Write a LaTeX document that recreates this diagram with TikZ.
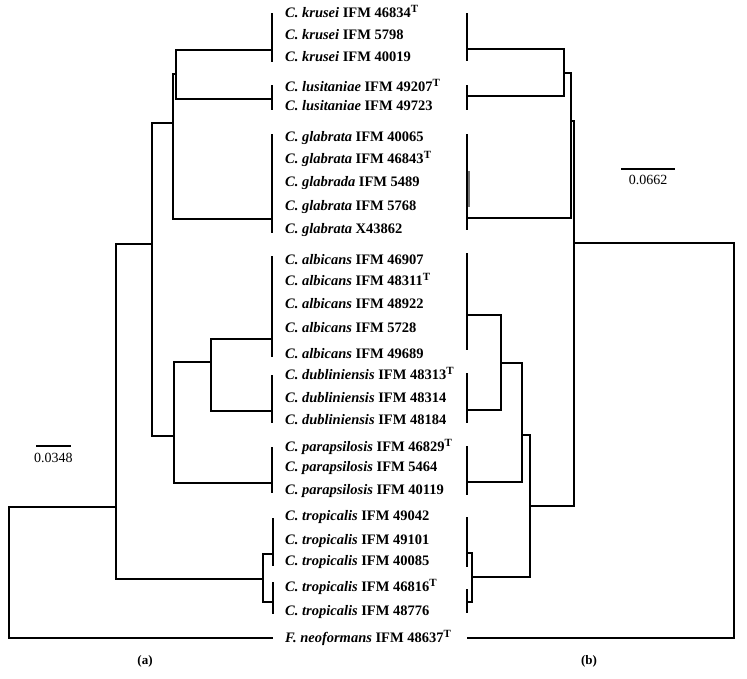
\documentclass[tikz,border=0pt]{standalone}
\usepackage{fontspec}
\setmainfont{Liberation Serif}
\usetikzlibrary{calc, positioning}
\newcommand{\typestrain}{\raisebox{5pt}{\fontsize{11}{11}\selectfont T}}

\begin{document}
\begin{tikzpicture}[x=1pt, y=-1pt,
  branch/.style={draw=black, line width=1.2pt},
  leafbar/.style={draw=black, line width=1.2pt},
  thickbar/.style={draw=black, line width=2.4pt},
  taxon/.style={anchor=base west, inner sep=0pt,
                font=\bfseries\fontsize{14.5}{16}\selectfont},
  scalelabel/.style={font=\fontsize{14}{15}\selectfont, inner sep=0pt},
  panel/.style={font=\bfseries\fontsize{13}{14}\selectfont, inner sep=0pt},
]
\useasboundingbox (0,0) rectangle (747,678);

% taxa
\node[taxon] (t1)  at (285,17)  {\textit{C. krusei} IFM 46834\typestrain};
\node[taxon] (t2)  at (285,39)  {\textit{C. krusei} IFM 5798};
\node[taxon] (t3)  at (285,61)  {\textit{C. krusei} IFM 40019};
\node[taxon] (t4)  at (285,91)  {\textit{C. lusitaniae} IFM 49207\typestrain};
\node[taxon] (t5)  at (285,110) {\textit{C. lusitaniae} IFM 49723};
\node[taxon] (t6)  at (285,141) {\textit{C. glabrata} IFM 40065};
\node[taxon] (t7)  at (285,163) {\textit{C. glabrata} IFM 46843\typestrain};
\node[taxon] (t8)  at (285,186) {\textit{C. glabrada} IFM 5489};
\node[taxon] (t9)  at (285,210) {\textit{C. glabrata} IFM 5768};
\node[taxon] (t10) at (285,233) {\textit{C. glabrata} X43862};
\node[taxon] (t11) at (285,264) {\textit{C. albicans} IFM 46907};
\node[taxon] (t12) at (285,285) {\textit{C. albicans} IFM 48311\typestrain};
\node[taxon] (t13) at (285,308) {\textit{C. albicans} IFM 48922};
\node[taxon] (t14) at (285,332) {\textit{C. albicans} IFM 5728};
\node[taxon] (t15) at (285,358) {\textit{C. albicans} IFM 49689};
\node[taxon] (t16) at (285,379) {\textit{C. dubliniensis} IFM 48313\typestrain};
\node[taxon] (t17) at (285,402) {\textit{C. dubliniensis} IFM 48314};
\node[taxon] (t18) at (285,424) {\textit{C. dubliniensis} IFM 48184};
\node[taxon] (t19) at (285,451) {\textit{C. parapsilosis} IFM 46829\typestrain};
\node[taxon] (t20) at (285,471) {\textit{C. parapsilosis} IFM 5464};
\node[taxon] (t21) at (285,494) {\textit{C. parapsilosis} IFM 40119};
\node[taxon] (t22) at (285,520) {\textit{C. tropicalis} IFM 49042};
\node[taxon] (t23) at (285,544) {\textit{C. tropicalis} IFM 49101};
\node[taxon] (t24) at (285,565) {\textit{C. tropicalis} IFM 40085};
\node[taxon] (t25) at (285,591) {\textit{C. tropicalis} IFM 46816\typestrain};
\node[taxon] (t26) at (285,615) {\textit{C. tropicalis} IFM 48776};
\node[taxon] (t27) at (285,642) {\textit{F. neoformans} IFM 48637\typestrain};

% (a) leaf bars
\draw[leafbar] (272,13) -- (272,62);
\draw[leafbar] (272,85) -- (272,110);
\draw[leafbar] (272,134) -- (272,233);
\draw[thickbar] (272,168) -- (272,207);
\draw[leafbar] (272,256) -- (272,357);
\draw[thickbar] (272,293) -- (272,333);
\draw[leafbar] (272,375) -- (272,423);
\draw[leafbar] (272,447) -- (272,493);
\draw[leafbar] (273,518) -- (273,566);
\draw[leafbar] (273,582) -- (273,614);

\coordinate (lkru) at (272,50);
\coordinate (llus) at (272,99);
\coordinate (lgla) at (272,219);
\coordinate (lalb) at (272,339);
\coordinate (ldub) at (272,411);
\coordinate (lpar) at (272,483);
\coordinate (ltro1) at (273,554);
\coordinate (ltro2) at (273,602);
\coordinate (lneo) at (273,638);

\coordinate (a1) at (176,74);
\coordinate (a2) at (173,123);
\coordinate (a3) at (211,362);
\coordinate (a4) at (174,436);
\coordinate (a5) at (152,244);
\coordinate (a6) at (263,579);
\coordinate (a7) at (116,507);
\coordinate (a8) at (9,570);

\draw[branch] (lkru) -| (a1) |- (llus);
\draw[branch] (a1) -| (a2) |- (lgla);
\draw[branch] (lalb) -| (a3) |- (ldub);
\draw[branch] (a3) -| (a4) |- (lpar);
\draw[branch] (a2) -| (a5) |- (a4);
\draw[branch] (ltro1) -| (a6) |- (ltro2);
\draw[branch] (a5) -| (a7) |- (a6);
\draw[branch] (a7) -| (a8) |- (lneo);

% (b) leaf bars
\draw[leafbar] (467,13) -- (467,61);
\draw[leafbar] (467,85) -- (467,110);
\draw[leafbar] (467,134) -- (467,230);
\draw[thickbar, draw=black!55] (469,171) -- (469,207);
\draw[leafbar] (467,253) -- (467,350);
\draw[leafbar] (467,373) -- (467,423);
\draw[leafbar] (467,446) -- (467,495);
\draw[leafbar] (467,517) -- (467,567);
\draw[leafbar] (467,589) -- (467,613);

\coordinate (rkru) at (467,49);
\coordinate (rlus) at (467,96);
\coordinate (rgla) at (467,218);
\coordinate (ralb) at (467,315);
\coordinate (rdub) at (467,410);
\coordinate (rpar) at (467,482);
\coordinate (rtro1) at (467,553);
\coordinate (rtro2) at (467,602);
\coordinate (rneo) at (467,638);

\coordinate (b1) at (564,73);
\coordinate (b2) at (571,121);
\coordinate (b3) at (501,363);
\coordinate (b4) at (522,435);
\coordinate (b5) at (472,577);
\coordinate (b6) at (530,506);
\coordinate (b7) at (574,243);
\coordinate (b8) at (734,420);

\draw[branch] (rkru) -| (b1) |- (rlus);
\draw[branch] (b1) -| (b2) |- (rgla);
\draw[branch] (ralb) -| (b3) |- (rdub);
\draw[branch] (b3) -| (b4) |- (rpar);
\draw[branch] (rtro1) -| (b5) |- (rtro2);
\draw[branch] (b4) -| (b6) |- (b5);
\draw[branch] (b2) -| (b7) |- (b6);
\draw[branch] (b7) -| (b8) |- (rneo);

% scale bars
\coordinate (sa1) at (36,446);
\coordinate (sa2) at (71,446);
\draw[branch] (sa1) -- (sa2);
\node[scalelabel, below=7pt of $(sa1)!0.5!(sa2)$] (sa) {0.0348};
\coordinate (sb1) at (621,169);
\coordinate (sb2) at (675,169);
\draw[branch] (sb1) -- (sb2);
\node[scalelabel, below=6pt of $(sb1)!0.5!(sb2)$] (sb) {0.0662};

\node[panel] (pa) at (145,661) {(a)};
\node[panel] (pb) at (589,661) {(b)};
\end{tikzpicture}
\end{document}
